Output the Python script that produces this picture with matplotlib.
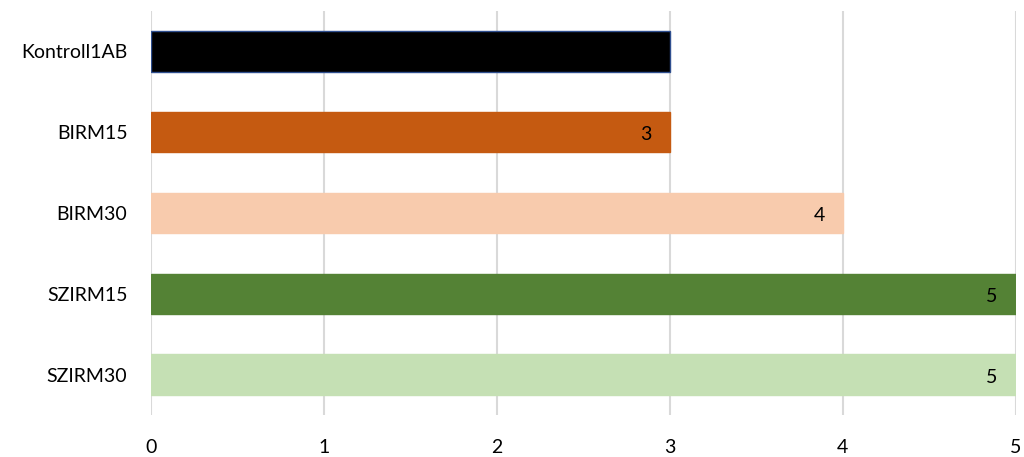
import matplotlib
matplotlib.use("Agg")
import matplotlib.pyplot as plt

groups = ["Kontroll1AB", "BIRM15", "BIRM30", "SZIRM15", "SZIRM30"]
scores = [3, 3, 4, 5, 5]
colors = ["#000000", "#C55A11", "#F8CBAD", "#548235", "#C5E0B4"]
edges = ["#2F4F8F", "#C55A11", "#F8CBAD", "#548235", "#C5E0B4"]
xticks = [0, 1, 2, 3, 4, 5]

plt.rcParams["font.family"] = ["Lato", "DejaVu Sans"]

fig = plt.figure(figsize=(10.24, 4.57), dpi=100)
ax = fig.add_axes([0.1475, 0.092, 0.8445, 0.884])

ypos = list(range(len(groups)))
bars = ax.barh(ypos, scores, height=0.5, color=colors, edgecolor=edges, linewidth=1, zorder=3)

for y, v in zip(ypos, scores):
    ax.annotate(str(v), xy=(v, y), xytext=(-13, -2), textcoords="offset points",
                ha="right", va="center", fontsize=14, color="black", zorder=4)

ax.set_xlim(0, 5)
ax.set_ylim(len(groups) - 0.5, -0.5)
ax.set_yticks(ypos)
ax.set_yticklabels(groups, fontsize=14)
ax.set_xticks(xticks)
ax.set_xticklabels([str(t) for t in xticks], fontsize=14)
ax.tick_params(length=0)
ax.tick_params(axis="y", pad=17)
ax.tick_params(axis="x", pad=17)
ax.grid(axis="x", color="#D9D9D9", linewidth=1.5, zorder=0)
for s in ax.spines.values():
    s.set_visible(False)

fig.savefig("out.png", dpi=100)
